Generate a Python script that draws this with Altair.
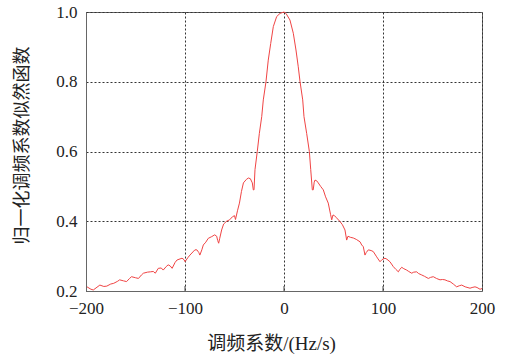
import altair as alt
import pandas as pd

# Normalized chirp-rate likelihood curve
chirp_rate = [
    -199, -195, -192.6, -186, -182, -179, -175, -172, -168, -166, -162, -159,
    -156, -154, -150, -147, -144, -142, -138, -135, -132, -130, -127, -124,
    -122, -119, -117, -115, -113, -110, -108, -105, -103, -101, -100, -97,
    -95, -92, -90, -88, -86, -85, -83, -81.5, -79, -76.5, -73, -70, -68,
    -67, -66, -65, -63, -61, -58, -55, -52, -50, -49, -47, -45, -43, -41,
    -38, -36, -34, -32, -31, -30.3, -29.3, -27, -24.9, -22.5, -20.9, -18.2,
    -15.9, -13.4, -10.8, -7.4, -4, 0, 2, 6, 9.4, 12.1, 14.4, 16.2, 18.9,
    20.2, 22.9, 25.6, 27, 28.6, 29.5, 30.5, 31.3, 33, 34.6, 37, 39.7, 42,
    44.7, 47, 48.2, 49.5, 51, 53, 56.6, 59, 61.6, 63.3, 64.6, 67, 70, 73,
    76.8, 78.5, 80.1, 81.8, 83, 85.2, 88, 90.2, 93.6, 95, 97, 99, 102, 104,
    107, 110.4, 113, 115.5, 117, 118.9, 121, 123.9, 126, 129, 131, 134, 136,
    139.1, 142, 145.8, 148, 150.8, 154, 157.6, 160, 162.6, 165, 167.7, 171,
    174.4, 177, 179.5, 183, 187.9, 190, 192.9, 195, 198, 200,
]
likelihood = [
    0.212, 0.205, 0.203, 0.217, 0.213, 0.214, 0.220, 0.222, 0.228, 0.232, 0.229, 0.227,
    0.236, 0.241, 0.238, 0.236, 0.246, 0.251, 0.254, 0.255, 0.256, 0.251, 0.265, 0.266,
    0.260, 0.270, 0.275, 0.272, 0.265, 0.282, 0.289, 0.292, 0.294, 0.290, 0.284, 0.296,
    0.303, 0.312, 0.318, 0.318, 0.310, 0.303, 0.318, 0.332, 0.340, 0.351, 0.356, 0.361, 0.357,
    0.345, 0.337, 0.350, 0.375, 0.392, 0.400, 0.404, 0.413, 0.416, 0.405, 0.430, 0.452, 0.485, 0.510,
    0.520, 0.524, 0.522, 0.510, 0.490, 0.490, 0.548, 0.600, 0.652, 0.700, 0.748, 0.800,
    0.862, 0.910, 0.958, 0.987, 0.996, 1.000, 0.996, 0.977, 0.939, 0.891, 0.843, 0.800, 0.748,
    0.700, 0.652, 0.600, 0.548, 0.490, 0.490, 0.512, 0.518, 0.516, 0.510, 0.500, 0.490, 0.470,
    0.452, 0.420, 0.404, 0.418, 0.416, 0.410, 0.399, 0.390, 0.375, 0.346, 0.357, 0.354, 0.352, 0.348,
    0.341, 0.332, 0.327, 0.303, 0.310, 0.318, 0.316, 0.313, 0.298, 0.292, 0.284, 0.290, 0.294, 0.291,
    0.284, 0.270, 0.262, 0.255, 0.262, 0.268, 0.264, 0.260, 0.256, 0.251, 0.254, 0.255, 0.250,
    0.246, 0.242, 0.236, 0.239, 0.241, 0.236, 0.232, 0.233, 0.232, 0.229, 0.227, 0.220,
    0.212, 0.215, 0.217, 0.212, 0.208, 0.210, 0.212, 0.210, 0.205, 0.207,
]

x_ticks = [-200, -100, 0, 100, 200]
y_ticks = [0.2, 0.4, 0.6, 0.8, 1.0]

W, H = 396, 279
LABEL_FONT = "Liberation Serif"
TITLE_FONT = "Liberation Serif, Noto Sans CJK SC"

df = pd.DataFrame({"rate": chirp_rate, "lik": likelihood})
ticks_df = pd.DataFrame({"t": x_ticks[1:-1]})

x_scale = alt.Scale(domain=[-200, 200], nice=False)
y_scale = alt.Scale(domain=[0.2, 1.0], nice=False, zero=False)

curve = alt.Chart(df).mark_line(color="#f04444", strokeWidth=1).encode(
    x=alt.X(
        "rate:Q", scale=x_scale,
        axis=alt.Axis(
            values=x_ticks, format="d", title="调频系数/(Hz/s)",
            grid=True, gridDash=[2, 2], gridColor="#333333", gridWidth=1,
            tickSize=0, labelPadding=9, labelFontSize=17, labelFont=LABEL_FONT,
            labelColor="#222222", labelFlush=False,
            domainColor="#666666",
            titleFont=TITLE_FONT, titleFontSize=19, titleFontWeight="normal",
            titleColor="#222222", titleX=185, titleY=58, titleBaseline="alphabetic",
        ),
    ),
    y=alt.Y(
        "lik:Q", scale=y_scale,
        axis=alt.Axis(
            values=y_ticks, format=".1f", title="归一化调频系数似然函数",
            grid=True, gridDash=[2, 2], gridColor="#333333", gridWidth=1,
            tickSize=0, labelPadding=9, labelFontSize=17, labelFont=LABEL_FONT,
            labelColor="#222222", labelFlush=False,
            domainColor="#666666",
            titleFont=TITLE_FONT, titleFontSize=18, titleFontWeight="normal",
            titleColor="#222222", titleAngle=-90, titleX=-64, titleY=133,
            titleAlign="center", titleBaseline="middle",
        ),
    ),
)

# short inward ticks on the bottom axis
inner_ticks = alt.Chart(ticks_df).mark_rule(color="#444444", strokeWidth=1).encode(
    x=alt.X("t:Q", scale=x_scale),
    y=alt.value(H),
    y2=alt.value(H - 5),
)

chart = (
    alt.layer(curve, inner_ticks)
    .properties(
        width=W, height=H, autosize="none",
        padding={"left": 86, "top": 12, "right": 31, "bottom": 65},
        background="white",
    )
    .configure_view(stroke="#666666", strokeWidth=1)
)

chart.save("out.html", embed_options={"renderer": "svg", "actions": False})
